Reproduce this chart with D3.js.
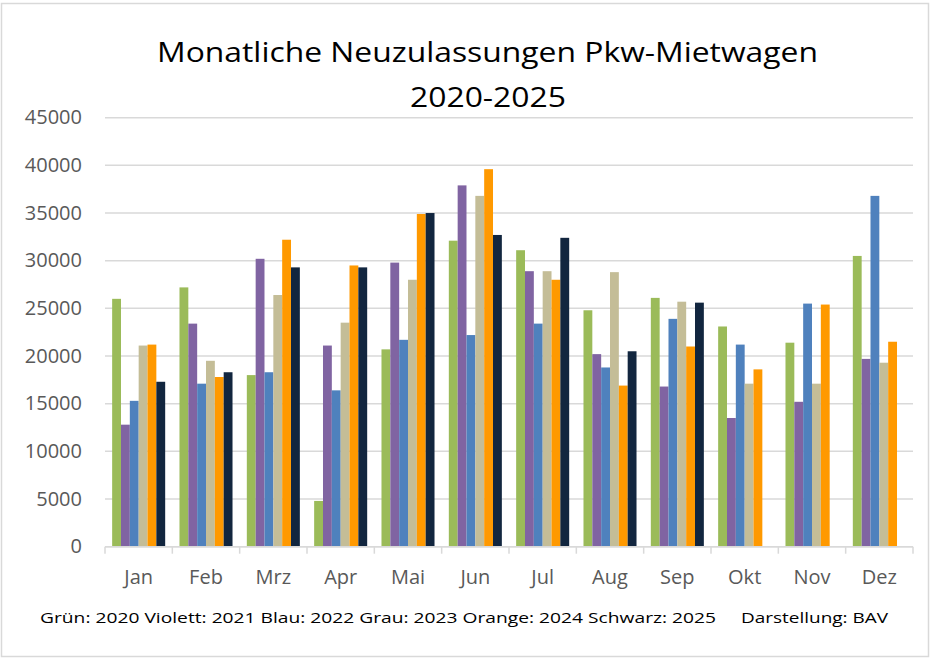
<!DOCTYPE html>
<html>
<head>
<meta charset="utf-8">
<script src="https://cdn.jsdelivr.net/npm/d3@7"></script>
<style>
body { margin: 0; background: #fff; }
svg { display: block; font-family: "Open Sans", sans-serif; }
</style>
</head>
<body>
<svg id="chart"></svg>
<script>
const months = ['Jan', 'Feb', 'Mrz', 'Apr', 'Mai', 'Jun', 'Jul', 'Aug', 'Sep', 'Okt', 'Nov', 'Dez'];
const years = ['2020', '2021', '2022', '2023', '2024', '2025'];
const colors = ['#9bbb59', '#8064a2', '#4f81bd', '#c4bd97', '#ff9900', '#12263f'];

const v2020 = [26000, 27200, 18000, 4800, 20700, 32100, 31100, 24800, 26100, 23100, 21400, 30500];
const v2021 = [12800, 23400, 30200, 21100, 29800, 37900, 28900, 20200, 16800, 13500, 15200, 19700];
const v2022 = [15300, 17100, 18300, 16400, 21700, 22200, 23400, 18800, 23900, 21200, 25500, 36800];
const v2023 = [21100, 19500, 26400, 23500, 28000, 36800, 28900, 28800, 25700, 17100, 17100, 19300];
const v2024 = [21200, 17800, 32200, 29500, 34900, 39600, 28000, 16900, 21000, 18600, 25400, 21500];
const v2025 = [17300, 18300, 29300, 29300, 35000, 32700, 32400, 20500, 25600, null, null, null];
const series = [v2020, v2021, v2022, v2023, v2024, v2025];

const yTicks = [0, 5000, 10000, 15000, 20000, 25000, 30000, 35000, 40000, 45000];

const width = 938;
const height = 659;
const plotLeft = 105, plotRight = 913, plotTop = 117.7, plotBottom = 546.7;

const svg = d3.select('#chart').attr('width', width).attr('height', height);

svg.append('rect')
    .attr('x', 1.5).attr('y', 3.5).attr('width', 927).attr('height', 653)
    .attr('fill', '#fff').attr('stroke', '#d9d9d9').attr('stroke-width', 1.5);

const x0 = d3.scaleBand().domain(months).range([plotLeft, plotRight]).paddingInner(0.2125).paddingOuter(0.10625);
const x1 = d3.scaleBand().domain(years).range([0, x0.bandwidth()]);
const y = d3.scaleLinear().domain([0, 45000]).range([plotBottom, plotTop]);

// gridlines
svg.append('g')
    .selectAll('line')
    .data(yTicks)
    .enter()
    .append('line')
    .attr('x1', plotLeft).attr('x2', plotRight)
    .attr('y1', d => y(d)).attr('y2', d => y(d))
    .attr('stroke', '#d9d9d9').attr('stroke-width', 1.5);

// y labels
svg.append('g')
    .selectAll('text')
    .data(yTicks)
    .enter()
    .append('text')
    .attr('x', 82)
    .attr('y', d => y(d) + 6.5)
    .attr('text-anchor', 'end')
    .attr('font-size', 20)
    .attr('fill', '#595959')
    .text(d => d);

// bars
const groups = svg.append('g')
    .selectAll('g')
    .data(years)
    .enter()
    .append('g')
    .attr('fill', (d, i) => colors[i]);

groups.selectAll('rect')
    .data((d, i) => months.map((m, j) => ({ month: m, year: d, value: series[i][j] })).filter(e => e.value != null))
    .enter()
    .append('rect')
    .attr('x', d => x0(d.month) + x1(d.year))
    .attr('width', x1.bandwidth())
    .attr('y', d => y(d.value))
    .attr('height', d => plotBottom - y(d.value));

// x axis
const step = (plotRight - plotLeft) / months.length;
const xAxis = svg.append('g');
xAxis.append('line')
    .attr('x1', plotLeft).attr('x2', plotRight)
    .attr('y1', plotBottom).attr('y2', plotBottom)
    .attr('stroke', '#d9d9d9').attr('stroke-width', 1.5);
xAxis.selectAll('.tick')
    .data(d3.range(months.length + 1))
    .enter()
    .append('line')
    .attr('x1', i => plotLeft + i * step).attr('x2', i => plotLeft + i * step)
    .attr('y1', plotBottom).attr('y2', plotBottom + 7)
    .attr('stroke', '#d9d9d9').attr('stroke-width', 1.5);
xAxis.selectAll('text')
    .data(months)
    .enter()
    .append('text')
    .attr('x', d => x0(d) + x0.bandwidth() / 2)
    .attr('y', 584)
    .attr('text-anchor', 'middle')
    .attr('font-size', 20)
    .attr('fill', '#595959')
    .text(d => d);

// title
svg.append('text')
    .attr('x', 487.5).attr('y', 62)
    .attr('text-anchor', 'middle')
    .attr('font-size', 28)
    .attr('fill', '#000')
    .attr('textLength', 661).attr('lengthAdjust', 'spacingAndGlyphs')
    .text('Monatliche Neuzulassungen Pkw-Mietwagen');
svg.append('text')
    .attr('x', 488).attr('y', 107)
    .attr('text-anchor', 'middle')
    .attr('font-size', 28)
    .attr('fill', '#000')
    .attr('textLength', 156).attr('lengthAdjust', 'spacingAndGlyphs')
    .text('2020-2025');

// note
svg.append('text')
    .attr('x', 40).attr('y', 623)
    .attr('font-size', 15)
    .attr('fill', '#000')
    .attr('textLength', 676).attr('lengthAdjust', 'spacingAndGlyphs')
    .text('Grün: 2020 Violett: 2021 Blau: 2022 Grau: 2023 Orange: 2024 Schwarz: 2025');
svg.append('text')
    .attr('x', 741).attr('y', 623)
    .attr('font-size', 15)
    .attr('fill', '#000')
    .attr('textLength', 147).attr('lengthAdjust', 'spacingAndGlyphs')
    .text('Darstellung: BAV');
</script>
</body>
</html>
